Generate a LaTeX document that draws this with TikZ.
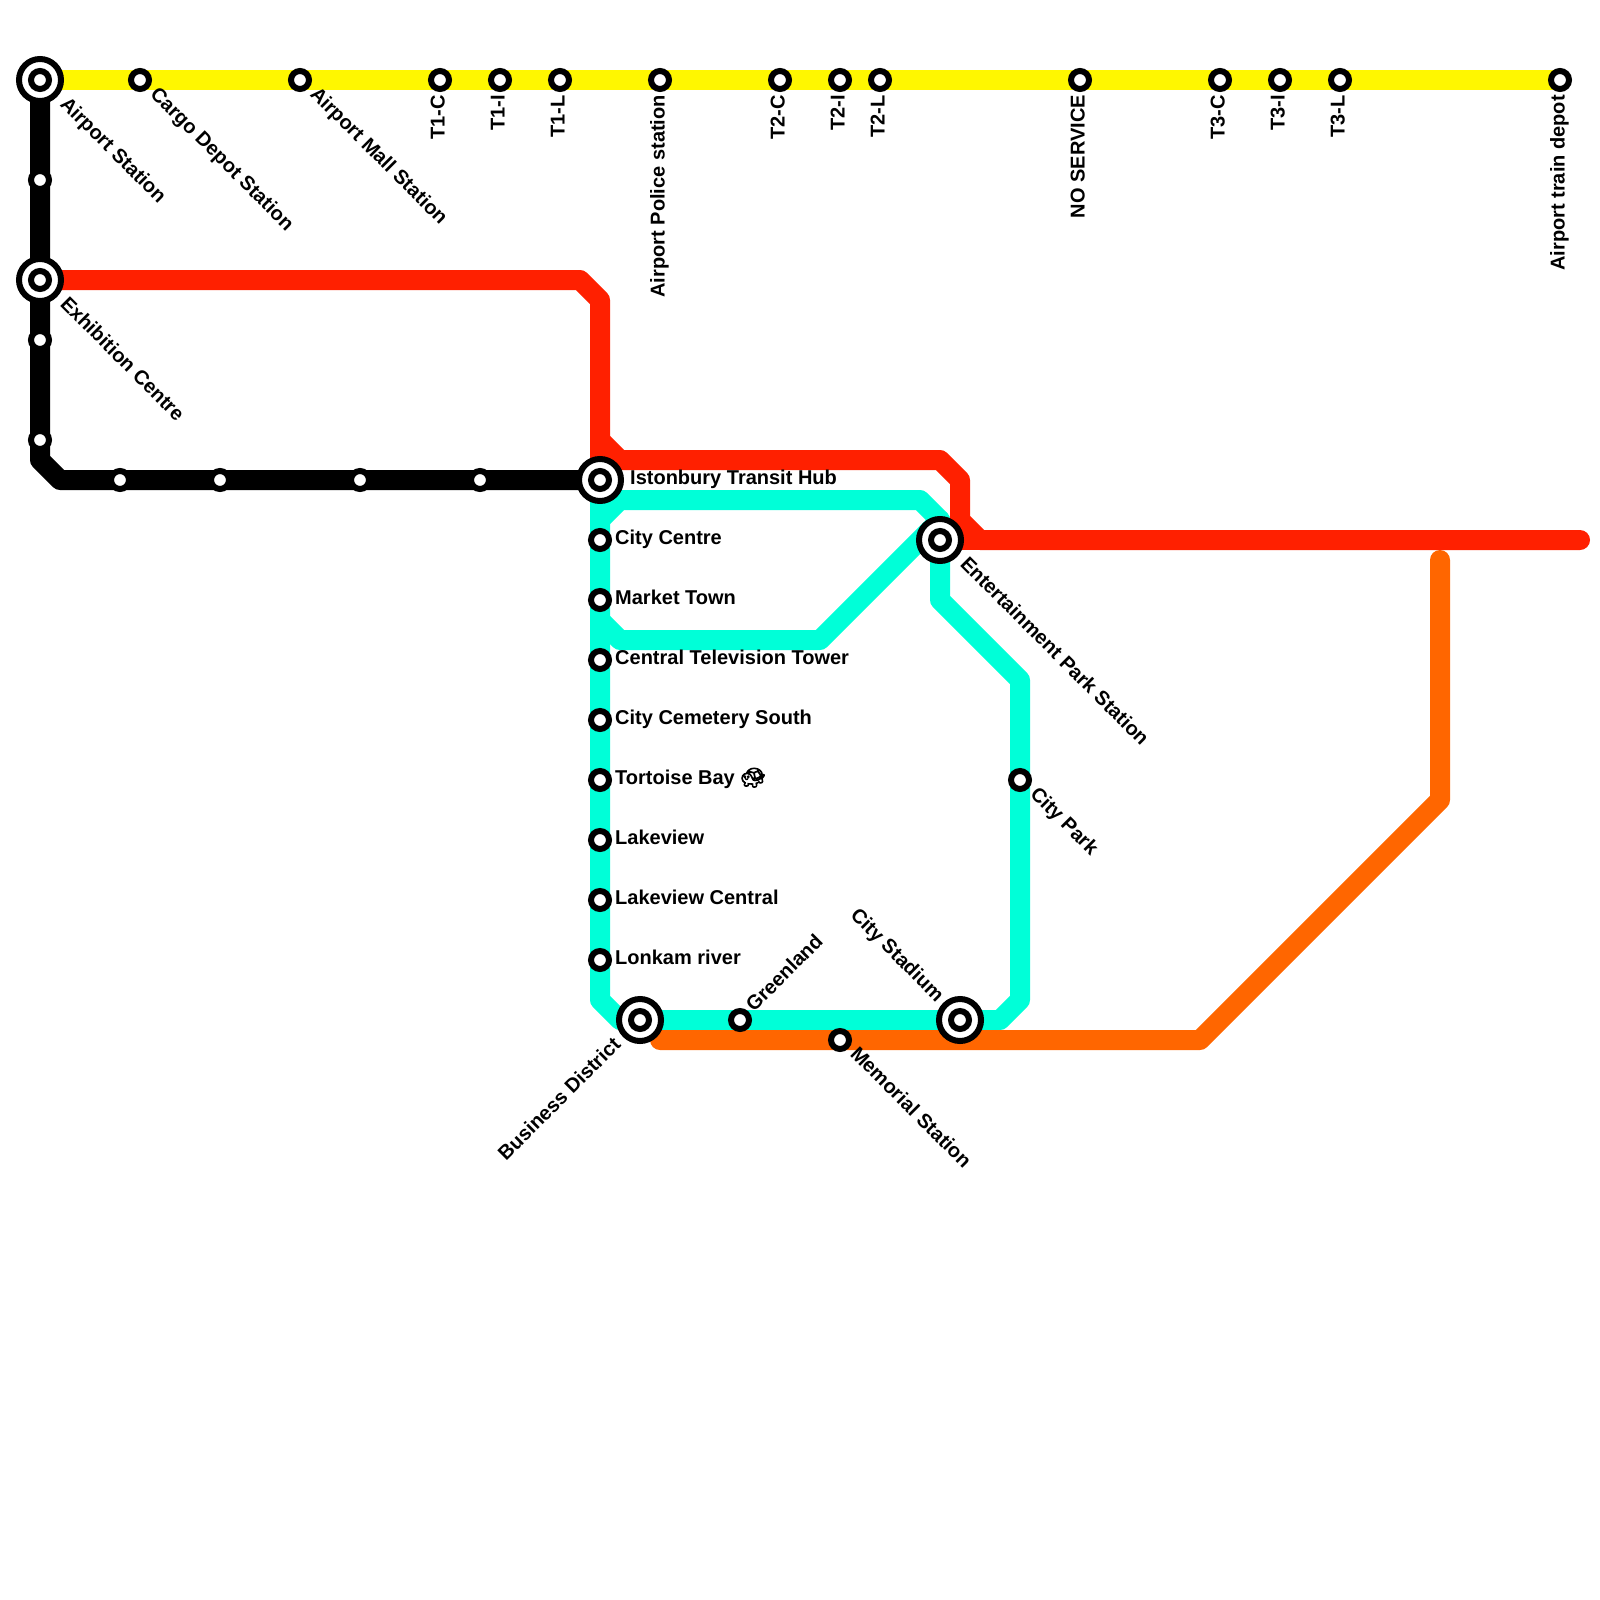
\documentclass[tikz,border=0pt]{standalone}
\usepackage{fontspec}
\setmainfont{Liberation Sans}
\newfontfamily\emojifont[FakeBold=4]{Noto Emoji}
\usetikzlibrary{backgrounds}
\definecolor{AirportYellow}{RGB}{255,247,0}
\definecolor{ExpressRed}{RGB}{255,32,0}
\definecolor{CityTeal}{RGB}{0,255,216}
\definecolor{SouthOrange}{RGB}{255,102,0}

\begin{document}
\begin{tikzpicture}[
    x=1pt,
    y=-1pt,
    font=\fontsize{20}{22}\selectfont\bfseries,
    station/.style={draw=black, fill=white, circle, line width=6pt, minimum size=18pt, inner sep=0pt},
    hub/.style={draw=black, fill=white, circle, line width=6pt, minimum size=42pt, inner sep=0pt},
    lbl/.style={inner sep=0pt, anchor=mid west},
    downlbl/.style={inner sep=0pt, anchor=mid west, rotate=-45},
    uplbl/.style={inner sep=0pt, anchor=mid west, rotate=45},
    backdownlbl/.style={inner sep=0pt, anchor=mid east, rotate=-45},
    backuplbl/.style={inner sep=0pt, anchor=mid east, rotate=45},
    vertlbl/.style={inner sep=0pt, anchor=mid east, rotate=90},
    metro/.style={line width=20pt, line cap=round, line join=round}
]
\useasboundingbox (0,0) rectangle (1600,1600);

% interchanges
\node[hub] (airporthub) at (40,80) {};
\node[station] (airport) at (airporthub) {};
\node[hub] (exhibitionhub) at (40,280) {};
\node[station] (exhibition) at (exhibitionhub) {};
\node[hub] (transithub) at (600,480) {};
\node[station] (transit) at (transithub) {};
\node[hub] (parkhub) at (940,540) {};
\node[station] (entertainment) at (parkhub) {};
\node[hub] (businesshub) at (640,1020) {};
\node[station] (business) at (businesshub) {};
\node[hub] (stadiumhub) at (960,1020) {};
\node[station] (stadium) at (stadiumhub) {};

% top line
\node[station] (cargo) at (140,80) {};
\node[station] (mall) at (300,80) {};
\node[station] (tonec) at (440,80) {};
\node[station] (tonei) at (500,80) {};
\node[station] (tonel) at (560,80) {};
\node[station] (police) at (660,80) {};
\node[station] (ttwoc) at (780,80) {};
\node[station] (ttwoi) at (840,80) {};
\node[station] (ttwol) at (880,80) {};
\node[station] (noservice) at (1080,80) {};
\node[station] (tthreec) at (1220,80) {};
\node[station] (tthreei) at (1280,80) {};
\node[station] (tthreel) at (1340,80) {};
\node[station] (depot) at (1560,80) {};

% black line
\node[station] (blacka) at (40,180) {};
\node[station] (blackb) at (40,340) {};
\node[station] (blackc) at (40,440) {};
\node[station] (blackd) at (120,480) {};
\node[station] (blacke) at (220,480) {};
\node[station] (blackf) at (360,480) {};
\node[station] (blackg) at (480,480) {};

% teal line
\node[station] (centre) at (600,540) {};
\node[station] (market) at (600,600) {};
\node[station] (television) at (600,660) {};
\node[station] (cemetery) at (600,720) {};
\node[station] (tortoise) at (600,780) {};
\node[station] (lakeview) at (600,840) {};
\node[station] (lakecentral) at (600,900) {};
\node[station] (lonkam) at (600,960) {};
\node[station] (greenland) at (740,1020) {};
\node[station] (citypark) at (1020,780) {};
\node[station] (memorial) at (840,1040) {};

% names
\node[downlbl] (airportlbl) at (61,103) {Airport Station};
\node[downlbl] (cargolbl) at (151,93) {Cargo Depot Station};
\node[downlbl] (malllbl) at (311,93) {Airport Mall Station};
\node[downlbl] (exhibitionlbl) at (61,303) {Exhibition Centre};
\node[vertlbl] (toneclbl) at (442,95) {T1-C};
\node[vertlbl] (toneilbl) at (502,95) {T1-I};
\node[vertlbl] (tonellbl) at (562,95) {T1-L};
\node[vertlbl] (policelbl) at (662,95) {Airport Police station};
\node[vertlbl] (ttwoclbl) at (782,95) {T2-C};
\node[vertlbl] (ttwoilbl) at (842,95) {T2-I};
\node[vertlbl] (ttwollbl) at (882,95) {T2-L};
\node[vertlbl] (noservicelbl) at (1082,95) {NO SERVICE};
\node[vertlbl] (tthreeclbl) at (1222,95) {T3-C};
\node[vertlbl] (tthreeilbl) at (1282,95) {T3-I};
\node[vertlbl] (tthreellbl) at (1342,95) {T3-L};
\node[vertlbl] (depotlbl) at (1562,95) {Airport train depot};
\node[lbl] (transitlbl) at (630,482) {Istonbury Transit Hub};
\node[lbl] (centrelbl) at (615,542) {City Centre};
\node[lbl] (marketlbl) at (615,602) {Market Town};
\node[lbl] (televisionlbl) at (615,662) {Central Television Tower};
\node[lbl] (cemeterylbl) at (615,722) {City Cemetery South};
\node[lbl] (tortoiselbl) at (615,782) {Tortoise Bay {\emojifont 🐢}};
\node[lbl] (lakeviewlbl) at (615,842) {Lakeview};
\node[lbl] (lakecentrallbl) at (615,902) {Lakeview Central};
\node[lbl] (lonkamlbl) at (615,962) {Lonkam river};
\node[downlbl] (entertainmentlbl) at (961,563) {Entertainment Park Station};
\node[downlbl] (cityparklbl) at (1031,793) {City Park};
\node[uplbl] (greenlandlbl) at (752,1011) {Greenland};
\node[backdownlbl] (stadiumlbl) at (938,1001) {City Stadium};
\node[backuplbl] (businesslbl) at (620,1044) {Business District};
\node[downlbl] (memoriallbl) at (851,1053) {Memorial Station};

\begin{scope}[on background layer]
\draw[metro, draw=AirportYellow] (airporthub.center) -- (depot.center);
\draw[metro, draw=black] (airporthub.center) -- (40,460) -- (60,480) -- (transithub.center);
\draw[metro, draw=CityTeal] (transithub.center) -- (600,1000) -- (620,1020) -- (1000,1020) -- (1020,1000) -- (1020,680) -- (940,600) -- (parkhub.center);
\draw[metro, draw=CityTeal] (600,520) -- (620,500) -- (920,500) -- (940,520) -- (parkhub.center);
\draw[metro, draw=CityTeal] (600,620) -- (620,640) -- (820,640) -- (940,520);
\draw[metro, draw=CityTeal, line width=6pt] (1000,667) -- (1005,667) -- (1007,675);
\draw[metro, draw=SouthOrange] (660,1040) -- (1200,1040) -- (1440,800) -- (1440,560);
\draw[metro, draw=ExpressRed] (exhibitionhub.center) -- (580,280) -- (600,300) -- (transithub.center);
\draw[metro, draw=ExpressRed] (600,440) -- (620,460) -- (940,460) -- (960,480) -- (960,520) -- (980,540) -- (1580,540);
\draw[metro, draw=ExpressRed] (parkhub.center) -- (980,540);
\end{scope}
\end{tikzpicture}
\end{document}
